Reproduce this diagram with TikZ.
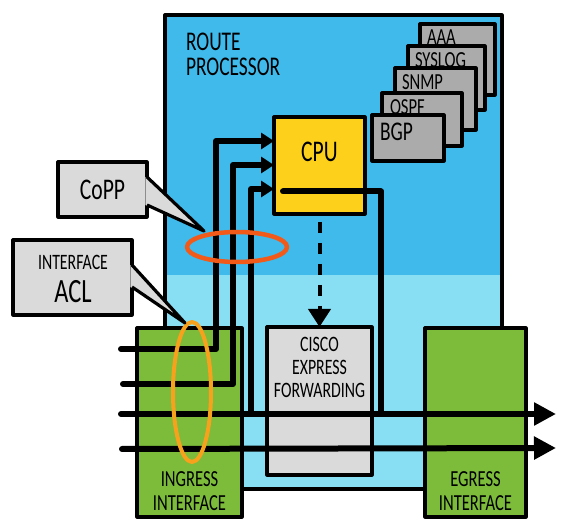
\documentclass[tikz,border=0pt]{standalone}
\usepackage{fontspec}
\setmainfont{Carlito}[FakeStretch=0.72]
\usetikzlibrary{positioning,shapes.geometric,arrows.meta,calc}
\definecolor{RPBlue}{HTML}{3FBAEA}
\definecolor{FwdBlue}{HTML}{88DFF4}
\definecolor{IfGreen}{HTML}{7CBC3A}
\definecolor{CpuYellow}{HTML}{FDD11B}
\definecolor{StackGray}{HTML}{ABABAB}
\definecolor{NoteGray}{HTML}{DADADA}
\definecolor{CoppRed}{HTML}{F25A1A}
\definecolor{AclOrange}{HTML}{F8A11C}
\newcommand{\fsz}[2]{\fontsize{#1}{#2}\selectfont}

\begin{document}
\begin{tikzpicture}[x=1pt, y=-1pt, line join=round,
    every node/.style={inner sep=0pt, outer sep=0pt},
    box/.style={draw, line width=3.2pt},
    stackbox/.style={box, fill=StackGray, anchor=north west},
    stacklabel/.style={font=\fsz{23}{23}},
    notebox/.style={box, fill=NoteGray, align=center},
    flow/.style={line width=6pt, line cap=round},
    tipin/.style={-{Triangle[length=13pt,width=16pt]}},
    tipout/.style={-{Triangle[length=22pt,width=22pt]}}]
  \useasboundingbox (0,0) rectangle (574,529);

  % route processor
  \fill[RPBlue] (165,15) rectangle (502,275);
  \fill[FwdBlue] (165,275) rectangle (502,489);
  \node[box, anchor=north west, minimum width=337pt, minimum height=474pt] (rp) at (165,15) {};
  \node[font=\fsz{27}{25}, align=left, below right=18pt and 21pt of rp.north west] (rplabel) {ROUTE\\PROCESSOR};

  % control plane services
  \node[stackbox, minimum width=75pt, minimum height=71pt] (aaa) at (420,24) {};
  \node[stacklabel, below right=6pt and 7pt of aaa.north west] (aaalabel) {AAA};
  \node[stackbox, minimum width=77pt, minimum height=64pt] (syslog) at (408,46) {};
  \node[stacklabel, below right=7pt and 7pt of syslog.north west] (sysloglabel) {SYSLOG};
  \node[stackbox, minimum width=81pt, minimum height=62pt] (snmp) at (395,68) {};
  \node[stacklabel, below right=7pt and 7pt of snmp.north west] (snmplabel) {SNMP};
  \node[stackbox, minimum width=80pt, minimum height=53pt] (ospf) at (382,93) {};
  \node[stacklabel, below right=7pt and 8pt of ospf.north west] (ospflabel) {OSPF};
  \node[stackbox, minimum width=72pt, minimum height=46pt] (bgp) at (372,115) {};
  \node[font=\fsz{27}{27}, below right=8pt and 8pt of bgp.north west] (bgplabel) {BGP};

  % cpu and forwarding
  \node[box, fill=CpuYellow, anchor=north west, minimum width=91pt, minimum height=97pt] (cpu) at (274,117) {};
  \node[font=\fsz{30}{30}, below=25pt of cpu.north] (cpulabel) {CPU};
  \node[box, fill=NoteGray, anchor=north west, minimum width=105pt, minimum height=148pt] (cef) at (267,327) {};
  \node[font=\fsz{22}{23}, align=center, below=10pt of cef.north] (ceflabel) {CISCO\\EXPRESS\\FORWARDING};

  % interfaces
  \node[box, fill=IfGreen, anchor=north west, minimum width=105pt, minimum height=189pt] (ingress) at (137,328) {};
  \node[font=\fsz{23}{24}, align=center, above=6pt of ingress.south] (ingresslabel) {INGRESS\\INTERFACE};
  \node[box, fill=IfGreen, anchor=north west, minimum width=101pt, minimum height=189pt] (egress) at (425,328) {};
  \node[font=\fsz{23}{24}, align=center, above=6pt of egress.south] (egresslabel) {EGRESS\\INTERFACE};

  % traffic
  \coordinate (in1) at (121,349);
  \coordinate (in2) at (123,384);
  \coordinate (in3) at (121,414);
  \coordinate (in4) at (122,449);
  \coordinate (out3) at (556,414);
  \coordinate (out4) at (556,448);
  \coordinate (up3) at ($(in3)+(130,0)$);
  \coordinate (join3) at (381,414);
  \coordinate (c1) at ($(cpu.north west)+(0,24)$);
  \coordinate (c2) at ($(cpu.north west)+(0,48)$);
  \coordinate (c3) at ($(cpu.north west)+(0,72)$);
  \coordinate (cpuexit) at ($(cpu.west)+(9,26)$);
  \draw[flow, tipin] (in1) -- ++(95,0) |- (c1);
  \draw[flow, tipin] (in2) -- ++(110,0) |- (c2);
  \draw[flow, tipout] (in3) -- (out3);
  \draw[flow, tipin] (up3) |- (c3);
  \draw[flow] (cpuexit) -| (join3);
  \draw[flow, tipout] (in4) -- (out4);
  \draw[line width=4pt, dash pattern=on 11pt off 10pt, -{Triangle[length=18pt,width=22pt]}] ([yshift=-8pt]cpu.south) -- (cef.north);

  % filters
  \node[draw=CoppRed, line width=4.5pt, ellipse, minimum width=100pt, minimum height=30pt] (coppring) at (237,247) {};
  \node[draw=AclOrange, line width=4pt, ellipse, minimum width=38pt, minimum height=140pt] (aclring) at (192,392) {};

  % callouts
  \node[notebox, minimum width=89pt, minimum height=55pt, font=\fsz{30}{30}] (copp) at (102.5,189.5) {CoPP};
  \coordinate (copptop) at ($(copp.north east)+(0,15)$);
  \coordinate (coppbot) at ($(copp.north east)+(0,43)$);
  \coordinate (copptip) at (204,231);
  \fill[NoteGray] ($(copptop)+(-1.7,0)$) -- (copptip) -- ($(coppbot)+(-1.7,0)$) -- cycle;
  \draw[line width=3.2pt] (copptop) -- (copptip) -- (coppbot);

  \node[notebox, minimum width=119pt, minimum height=75pt] (acl) at (72.5,277.5) {};
  \node[font=\fsz{22}{22}] (acltext) at (73,262) {INTERFACE};
  \node[font=\fsz{34}{34}] (acltextbig) at (73,292) {ACL};
  \coordinate (acltop) at ($(acl.north east)+(0,25)$);
  \coordinate (aclbot) at ($(acl.north east)+(0,47)$);
  \coordinate (acltip) at (185,323);
  \fill[NoteGray] ($(acltop)+(-1.7,0)$) -- (acltip) -- ($(aclbot)+(-1.7,0)$) -- cycle;
  \draw[line width=3.2pt] (acltop) -- (acltip) -- (aclbot);
\end{tikzpicture}
\end{document}
